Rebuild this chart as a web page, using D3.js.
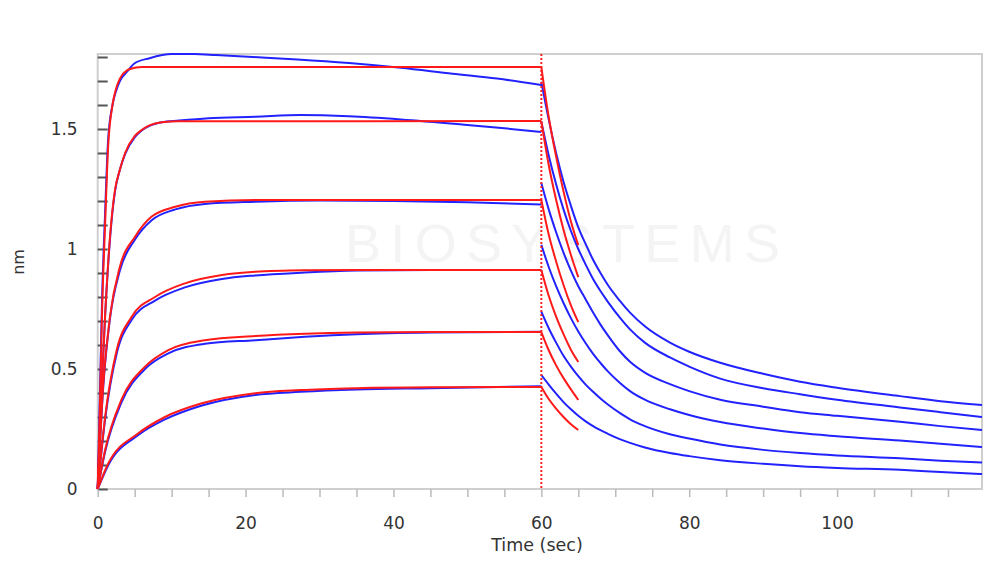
<!DOCTYPE html>
<html><head><meta charset="utf-8">
<script src="https://cdn.jsdelivr.net/npm/d3@7"></script>
<style>body{margin:0;background:#fff;}svg{display:block;}</style>
</head><body>
<svg id="c" width="1000" height="566"></svg>
<script>
// ---- data (time in sec, response in nm) ----
const xTicks = [0, 20, 40, 60, 80, 100];
const yTicks = [0, 0.5, 1, 1.5];
const yTickLabels = ["0", "0.5", "1", "1.5"];
const xLabel = "Time (sec)";
const yLabel = "nm";
const watermark = "BIOSYSTEMS";

// measured (blue) association 0-60 s
const blueAssoc1 = [[0,0],[0.3,0.4],[0.6,0.8],[1,1.15],[1.4,1.45],[2,1.6],[2.5,1.66],[3,1.7],[4,1.74],[5,1.774],[7,1.795],[10,1.812],[13,1.812],[16,1.808],[21,1.8],[27,1.79],[34,1.775],[41,1.755],[48,1.73],[54,1.71],[60,1.683]];
const blueAssoc2 = [[0,0],[0.5,0.4],[1,0.72],[1.66,1.04],[2.34,1.24],[3,1.33],[3.7,1.395],[5,1.465],[5.95,1.494],[7,1.513],[8.66,1.528],[11,1.535],[15,1.545],[21.3,1.551],[27.4,1.558],[34,1.553],[41,1.54],[50,1.517],[55,1.503],[60,1.487]];
const blueAssoc3 = [[0,0],[0.76,0.43],[1.66,0.71],[3,0.91],[5.05,1.04],[7.3,1.12],[10.5,1.165],[14.5,1.188],[21.3,1.197],[30,1.202],[40,1.2],[50,1.195],[60,1.185]];
const blueAssoc4 = [[0,0],[1,0.29],[2.57,0.565],[4.6,0.705],[7.75,0.785],[11.8,0.84],[16.8,0.875],[21.3,0.89],[28,0.902],[35,0.91],[45,0.913],[60,0.913]];
const blueAssoc5 = [[0,0],[1,0.155],[3.2,0.36],[6.4,0.5],[9.55,0.565],[14.5,0.605],[21.3,0.62],[28,0.634],[35,0.645],[45,0.652],[60,0.655]];
const blueAssoc6 = [[0,0],[1.44,0.1],[5.5,0.225],[9.1,0.29],[14.1,0.348],[21.3,0.392],[27.4,0.405],[35,0.415],[45,0.42],[60,0.428]];

// measured (blue) dissociation 60-120 s
const blueDiss1 = [[60,1.697],[61,1.54],[62,1.4],[63,1.28],[64,1.18],[65,1.09],[66,1.02],[67,0.955],[68,0.9],[69,0.85],[70.6,0.785],[72,0.735],[74,0.678],[77.4,0.61],[80,0.572],[84.2,0.526],[90,0.48],[95,0.447],[100,0.422],[108.5,0.387],[114,0.366],[119.6,0.35]];
const blueDiss2 = [[60,1.53],[61,1.39],[62,1.27],[63,1.165],[64,1.075],[65,1.0],[66,0.935],[67,0.875],[68,0.825],[69,0.78],[70.6,0.715],[72,0.665],[74,0.61],[77.4,0.548],[80,0.51],[84.2,0.46],[90,0.42],[95,0.395],[100,0.372],[108.5,0.34],[114,0.32],[119.6,0.3]];
const blueDiss3 = [[60,1.275],[61,1.165],[62,1.07],[63,0.985],[64,0.91],[65,0.845],[66,0.79],[67,0.735],[68,0.685],[69,0.64],[70.6,0.575],[72,0.53],[74,0.485],[77.4,0.437],[80,0.408],[84.2,0.372],[90,0.343],[95,0.32],[100,0.305],[108.5,0.28],[114,0.262],[119.6,0.246]];
const blueDiss4 = [[60,1.017],[61,0.925],[62,0.845],[63,0.775],[64,0.712],[65,0.656],[66,0.607],[67,0.563],[68,0.525],[69,0.49],[70.6,0.443],[72,0.408],[74,0.372],[77.4,0.332],[80,0.308],[84.2,0.279],[90,0.252],[95,0.233],[100,0.22],[108.5,0.202],[114,0.189],[119.6,0.175]];
const blueDiss5 = [[60,0.739],[61,0.67],[62,0.61],[63,0.555],[64,0.51],[65,0.47],[66,0.435],[67,0.405],[68,0.377],[69,0.352],[70.6,0.317],[72,0.29],[74,0.262],[77.4,0.228],[80,0.21],[84.2,0.185],[90,0.163],[95,0.15],[100,0.14],[108.5,0.128],[114,0.118],[119.6,0.11]];
const blueDiss6 = [[60,0.475],[61,0.435],[62,0.397],[63,0.362],[64,0.332],[65,0.305],[66,0.282],[67,0.262],[68,0.245],[69,0.23],[70.6,0.208],[72,0.192],[74,0.173],[77.4,0.15],[80,0.137],[84.2,0.12],[90,0.105],[95,0.095],[100,0.088],[108.5,0.08],[114,0.071],[119.6,0.0625]];

// fitted (red) association 0-60 s
const redAssoc1 = [[0,0],[0.3,0.35],[0.6,0.75],[1,1.1],[1.4,1.42],[2,1.6],[2.5,1.67],[3,1.71],[4,1.745],[5,1.755],[6,1.758],[60,1.758]];
const redAssoc2 = [[0,0],[0.5,0.4],[1,0.72],[1.66,1.05],[2.34,1.246],[3,1.33],[3.7,1.399],[5,1.47],[5.95,1.496],[7,1.515],[8.66,1.528],[11,1.532],[60,1.533]];
const redAssoc3 = [[0,0],[0.76,0.44],[1.66,0.718],[3,0.926],[5.05,1.051],[7.3,1.135],[10.5,1.176],[14.5,1.197],[21.3,1.204],[60,1.204]];
const redAssoc4 = [[0,0],[1,0.3],[2.57,0.579],[4.6,0.718],[7.75,0.8],[11.8,0.857],[16.8,0.8917],[21.3,0.905],[28,0.911],[35,0.9125],[60,0.9125]];
const redAssoc5 = [[0,0],[1,0.1625],[3.2,0.371],[6.4,0.51],[9.55,0.579],[14.5,0.62],[21.3,0.6375],[28,0.647],[35,0.652],[45,0.654],[60,0.654]];
const redAssoc6 = [[0,0],[1.44,0.107],[5.5,0.232],[9.1,0.3],[14.1,0.357],[21.3,0.399],[27.4,0.412],[35,0.42],[45,0.424],[60,0.425]];

// fitted (red) dissociation 60-65 s
const redDiss1 = [[60,1.758],[61,1.55],[62,1.385],[63,1.24],[64,1.115],[65,1.016]];
const redDiss2 = [[60,1.533],[61,1.35],[62,1.205],[63,1.08],[64,0.975],[65,0.883]];
const redDiss3 = [[60,1.204],[61,1.06],[62,0.948],[63,0.85],[64,0.765],[65,0.695]];
const redDiss4 = [[60,0.9125],[61,0.805],[62,0.718],[63,0.645],[64,0.58],[65,0.529]];
const redDiss5 = [[60,0.654],[61,0.578],[62,0.515],[63,0.462],[64,0.415],[65,0.371]];
const redDiss6 = [[60,0.425],[61,0.375],[62,0.335],[63,0.3],[64,0.27],[65,0.246]];

const blueSeries = [blueAssoc1,blueAssoc2,blueAssoc3,blueAssoc4,blueAssoc5,blueAssoc6,
                    blueDiss1,blueDiss2,blueDiss3,blueDiss4,blueDiss5,blueDiss6];
const redSeries = [redAssoc1,redAssoc2,redAssoc3,redAssoc4,redAssoc5,redAssoc6,
                   redDiss1,redDiss2,redDiss3,redDiss4,redDiss5,redDiss6];
const switchTime = 60;

// ---- layout ----
const svg = d3.select("#c");
const L = 97.7, R = 982, T = 54, B = 489;
const x = d3.scaleLinear().domain([0, 119.6]).range([L, R]);
const y = d3.scaleLinear().domain([0, 1.8125]).range([B, T]);
const FONT = "DejaVu Sans, Verdana, sans-serif";

// watermark
svg.append("text").attr("x", 345).attr("y", 262).attr("fill", "#f4f4f4")
  .attr("font-family", "Liberation Sans, Arial, sans-serif").attr("font-size", 54)
  .attr("textLength", 435).attr("lengthAdjust", "spacing").text(watermark);

// frame
svg.append("rect").attr("x", L).attr("y", T).attr("width", R - L).attr("height", B - T)
  .attr("fill", "none").attr("stroke", "#cfcfcf").attr("stroke-width", 2);

// y axis minor ticks (inward)
const yAxis = d3.axisRight(y).tickValues(d3.range(0, 1.81, 0.1)).tickSize(10).tickFormat("");
const gy = svg.append("g").attr("transform", `translate(${L},0)`).call(yAxis);
gy.select(".domain").remove();
gy.selectAll(".tick line").attr("stroke", "#555").attr("stroke-width", 2);

// y labels
const yl = d3.axisLeft(y).tickValues(yTicks).tickSize(0).tickPadding(20)
  .tickFormat((d, i) => yTickLabels[i]);
const gyl = svg.append("g").attr("transform", `translate(${L},0)`).call(yl);
gyl.select(".domain").remove();
gyl.selectAll("text").attr("font-size", 17).attr("fill", "#333").attr("font-family", FONT);

// x axis
const xAxis = d3.axisBottom(x).tickValues(d3.range(0, 120, 5)).tickSize(8).tickFormat("");
const gx = svg.append("g").attr("transform", `translate(0,${B})`).call(xAxis);
gx.select(".domain").remove();
gx.selectAll(".tick line").attr("stroke", "#bbb").attr("stroke-width", 1.5);
const xl = d3.axisBottom(x).tickValues(xTicks).tickSize(0).tickPadding(28);
const gxl = svg.append("g").attr("transform", `translate(0,${B})`).call(xl);
gxl.select(".domain").remove();
gxl.selectAll("text").attr("font-size", 17).attr("fill", "#333").attr("font-family", FONT);

svg.append("text").attr("x", 537).attr("y", 551).attr("text-anchor", "middle")
  .attr("font-size", 17.5).attr("fill", "#333").attr("font-family", FONT).text(xLabel);
svg.append("text").attr("transform", "translate(24,262) rotate(-90)").attr("text-anchor", "middle")
  .attr("font-size", 16).attr("fill", "#333").attr("font-family", FONT).text(yLabel);

// curves
const line = d3.line().x(d => x(d[0])).y(d => y(d[1])).curve(d3.curveMonotoneX);
const plot = svg.append("g");
plot.selectAll("path.blue").data(blueSeries).join("path").attr("class", "blue")
  .attr("d", line).attr("fill", "none").attr("stroke", "#2222ff").attr("stroke-width", 2);
plot.selectAll("path.red").data(redSeries).join("path").attr("class", "red")
  .attr("d", line).attr("fill", "none").attr("stroke", "#ff1a1a").attr("stroke-width", 2);

// switch line
plot.append("line").attr("x1", x(switchTime)).attr("x2", x(switchTime)).attr("y1", T).attr("y2", B)
  .attr("stroke", "#ff2020").attr("stroke-width", 2).attr("stroke-dasharray", "2,2");
</script>
</body></html>
